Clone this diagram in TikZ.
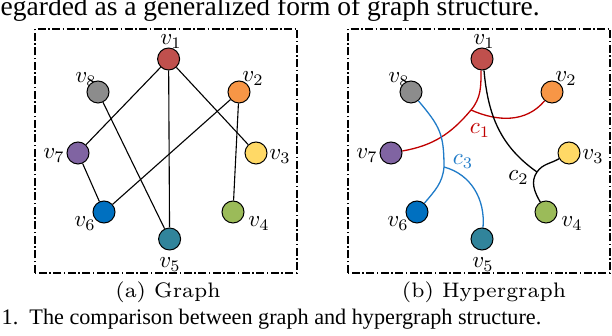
\documentclass[tikz,border=0pt]{standalone}
\usepackage{fontspec}
\usepackage{graphicx}
\newfontfamily\timesfont{Liberation Serif}
\usetikzlibrary{backgrounds}
\definecolor{cA}{HTML}{C0504D}
\definecolor{cB}{HTML}{F79646}
\definecolor{cC}{HTML}{FFD966}
\definecolor{cD}{HTML}{9BBB59}
\definecolor{cE}{HTML}{31849B}
\definecolor{cF}{HTML}{0070C0}
\definecolor{cG}{HTML}{8064A2}
\definecolor{cH}{HTML}{8C8C8C}
\definecolor{hred}{HTML}{C00000}
\definecolor{hblue}{HTML}{1F7BC8}
\tikzset{
  vtx/.style={circle, draw=black, line width=1pt, minimum size=22pt, inner sep=0pt},
  lab/.style={inner sep=0pt, anchor=base},
  framebox/.style={draw=black, line width=1.2pt, dash pattern=on 8pt off 2.5pt on 1.5pt off 2.5pt},
  gedge/.style={draw=black, line width=1.1pt},
  hedge/.style={line width=1.3pt},
  subcap/.style={inner sep=0pt, anchor=base},
}
\newcommand{\vl}[1]{\scalebox{2.3}{$#1$}}
\newcommand{\capt}[1]{\scalebox{3.0}{\fontsize{7}{8}\selectfont #1}}
\begin{document}
\begin{tikzpicture}[x=1pt,y=1pt]
\useasboundingbox (0,0) rectangle (612,336);
% texts of surrounding page
\node[inner sep=0pt, anchor=base west, font=\timesfont\fontsize{27.5}{30}\selectfont] (toptext) at (0.5,320) {egarded as a generalized form of graph structure.};
\node[inner sep=0pt, anchor=base west, font=\timesfont\fontsize{22.2}{26}\selectfont] (bottext) at (1.5,11) {1.\ \ The comparison between graph and hypergraph structure.};
% frames
\draw[framebox] (35,63) rectangle (297,307);
\draw[framebox] (348,63) rectangle (610,307);
% captions
\node[subcap] (capa) at (168,38) {\capt{(a) Graph}};
\node[subcap] (capb) at (484,38) {\capt{(b) Hypergraph}};
% left graph nodes
\node[vtx, fill=cA] (v1) at (168.6,277) {};
\node[vtx, fill=cH] (v8) at (98,244) {};
\node[vtx, fill=cB] (v2) at (239,244) {};
\node[vtx, fill=cG] (v7) at (78,183) {};
\node[vtx, fill=cC] (v3) at (256,183) {};
\node[vtx, fill=cF] (v6) at (104,124) {};
\node[vtx, fill=cD] (v4) at (233,124) {};
\node[vtx, fill=cE] (v5) at (169.6,97) {};
% right hypergraph nodes
\node[vtx, fill=cA] (r1) at (482,277) {};
\node[vtx, fill=cH] (r8) at (411,244) {};
\node[vtx, fill=cB] (r2) at (552,244) {};
\node[vtx, fill=cG] (r7) at (391,183) {};
\node[vtx, fill=cC] (r3) at (569,183) {};
\node[vtx, fill=cF] (r6) at (417,124) {};
\node[vtx, fill=cD] (r4) at (546,124) {};
\node[vtx, fill=cE] (r5) at (482,97) {};
\coordinate (J1) at (471,226);
\coordinate (J2) at (537,164);
\coordinate (J3) at (444,169);
\begin{pgfonlayer}{background}
% labels left
\node[lab] (l1) at (171,291) {\vl{v_1}};
\node[lab] (l8) at (86,253) {\vl{v_8}};
\node[lab] (l2) at (253,254) {\vl{v_2}};
\node[lab] (l7) at (54,177) {\vl{v_7}};
\node[lab] (l3) at (280,176) {\vl{v_3}};
\node[lab] (l6) at (85,109) {\vl{v_6}};
\node[lab] (l4) at (259,109) {\vl{v_4}};
\node[lab] (l5) at (170,68) {\vl{v_5}};
% labels right
\node[lab] (m1) at (484,291) {\vl{v_1}};
\node[lab] (m8) at (399,253) {\vl{v_8}};
\node[lab] (m2) at (566,254) {\vl{v_2}};
\node[lab] (m7) at (367,177) {\vl{v_7}};
\node[lab] (m3) at (593,176) {\vl{v_3}};
\node[lab] (m6) at (398,109) {\vl{v_6}};
\node[lab] (m4) at (572,109) {\vl{v_4}};
\node[lab] (m5) at (483,68) {\vl{v_5}};
\node[lab, text=hred] (c1) at (480,202) {\vl{c_1}};
\node[lab, text=hblue] (c3) at (463,171) {\vl{c_3}};
\node[lab] (c2) at (518.5,155) {\vl{c_2}};
% graph edges
\draw[gedge] (v1) -- (v7);
\draw[gedge] (v1) -- (v5);
\draw[gedge] (v1) -- (v3);
\draw[gedge] (v8) -- (v5);
\draw[gedge] (v2) -- (v6);
\draw[gedge] (v2) -- (v4);
\draw[gedge] (v7) -- (v6);
% hyperedges
\draw[hedge, hred] (r1.-95) to[out=-90,in=50] (J1) to[out=230,in=10] (r7);
\draw[hedge, hred] (J1) to[out=-24,in=-130] (r2);
\draw[hedge, hblue] (r8) to[out=-50,in=90, looseness=1.2] (J3) to[out=-95,in=50] (r6);
\draw[hedge, hblue] (J3) to[out=-15,in=85] (r5);
\draw[hedge, black] (r1.-80) to[out=-85,in=145] (J2);
\draw[hedge, black] (r3) to[out=210,in=55] (J2) to[out=235,in=120] (r4);
\end{pgfonlayer}
\end{tikzpicture}
\end{document}
